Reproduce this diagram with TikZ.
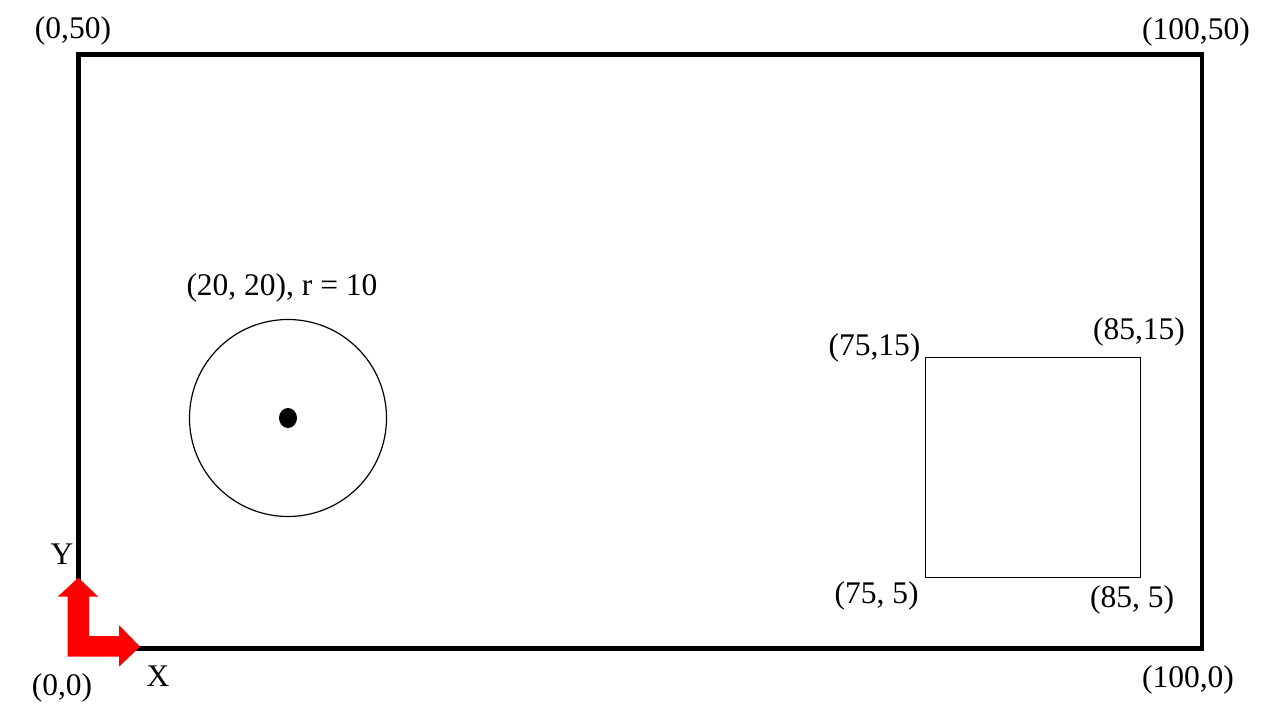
\documentclass[tikz,border=0pt]{standalone}
\usepackage{fontspec}
\usetikzlibrary{shapes.geometric}
\setmainfont{Liberation Serif}
\begin{document}
\begin{tikzpicture}[x=1pt,y=-1pt,
  lbl/.style={font=\fontsize{31.5}{36}\selectfont, inner sep=0pt},
  frame/.style={draw=black, line width=4.5pt, outer sep=0pt},
  thin/.style={draw=black, line width=1.2pt, outer sep=0pt},
  axisarrow/.style={fill=red, draw=none}]
\useasboundingbox (0,0) rectangle (1280,720);
% outer frame
\node[frame, minimum width=1123.5pt, minimum height=594pt, inner sep=0pt, anchor=north west] (field) at (78.5,54.5) {};
% circle
\node[thin, circle, minimum size=197pt, inner sep=0pt] (circ) at (288,418) {};
\node[fill=black, ellipse, minimum width=18pt, minimum height=20pt, inner sep=0pt] (center) at (288,418) {};
% square
\node[thin, minimum width=215pt, minimum height=220pt, inner sep=0pt, anchor=north west] (sq) at (925.5,357.5) {};
% red axes
\fill[axisarrow] (67.7,656.7) -- (67.7,596.7) -- (57.7,596.7) -- (78.3,577.7) -- (98.3,596.7) -- (89,596.7) -- (89,636) -- (119,636) -- (119,625) -- (140,646.7) -- (119,666.7) -- (119,656.7) -- cycle;
% labels
\node[lbl] (tl) at (73,31) {(0,50)};
\node[lbl] (tr) at (1196,32) {(100,50)};
\node[lbl] (bl) at (62,688) {(0,0)};
\node[lbl] (br) at (1188,680) {(100,0)};
\node[lbl] (ylbl) at (62,554) {Y};
\node[lbl] (xlbl) at (158,676) {X};
\node[lbl] (clbl) at (282,288) {(20, 20), r = 10};
\node[lbl] (s1) at (874.5,348) {(75,15)};
\node[lbl] (s2) at (1139,332) {(85,15)};
\node[lbl] (s3) at (876.5,596) {(75, 5)};
\node[lbl] (s4) at (1132,600) {(85, 5)};
\end{tikzpicture}
\end{document}
